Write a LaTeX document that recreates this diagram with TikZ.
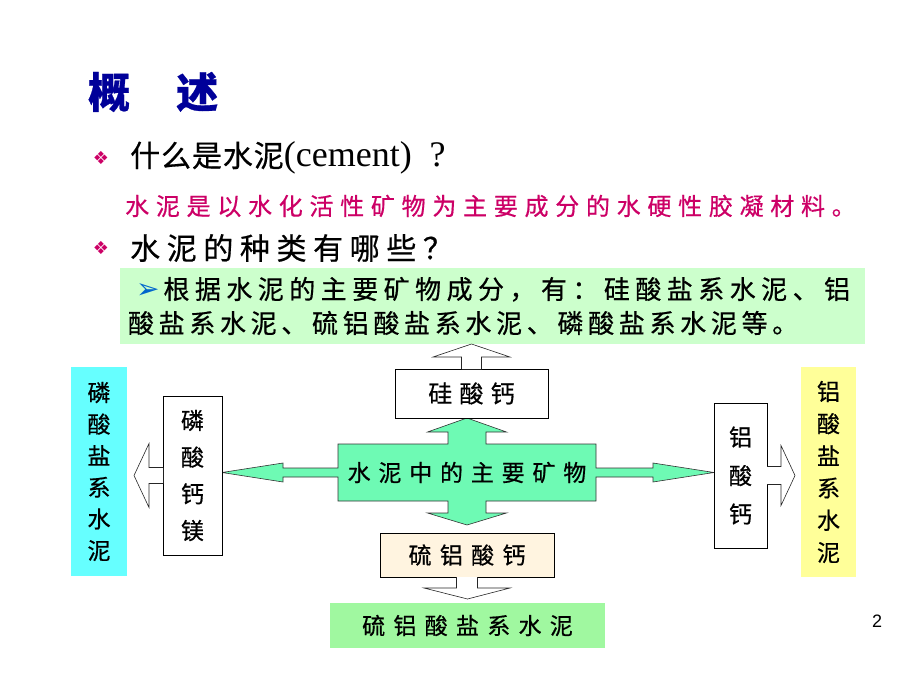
\documentclass[tikz,border=0pt]{standalone}
\usepackage{fontspec}
\usepackage{xcolor}
\setmainfont{Liberation Serif}
\newfontfamily\cjk{Noto Sans CJK SC}[FakeBold=0.6]
\newfontfamily\symfont{DejaVu Sans}
\newfontfamily\numfont{Liberation Sans}
\usetikzlibrary{positioning,calc,backgrounds}

\definecolor{titleblue}{RGB}{0,0,153}
\definecolor{rosered}{RGB}{204,0,102}
\definecolor{palegreen}{RGB}{204,255,204}
\definecolor{mint}{RGB}{110,250,180}
\definecolor{aqua}{RGB}{102,255,255}
\definecolor{lemon}{RGB}{255,255,153}
\definecolor{wheat}{RGB}{255,244,224}
\definecolor{leafgreen}{RGB}{160,248,160}
\definecolor{pointer}{RGB}{0,102,204}

\newcommand{\cjkfont}[3]{\cjk\addfontfeatures{LetterSpace=#3}\fontsize{#1}{#2}\selectfont}

\tikzset{
  box/.style={draw=black, line width=0.6pt, fill=white, inner sep=0pt, outer sep=0pt},
  pane/.style={inner sep=0pt, outer sep=0pt},
  hollow/.style={draw=black!85, line width=0.6pt, fill=white},
  mintshape/.style={draw=black!80, line width=0.6pt, fill=mint},
  bullet/.style={text=rosered, font=\symfont\fontsize{18}{18}\selectfont, inner sep=0pt},
  line/.style={anchor=west, inner sep=0pt}
}

\begin{document}
\begin{tikzpicture}[x=1pt, y=-1pt]
    \useasboundingbox (0,0) rectangle (920,690);

    \node[line, text=titleblue, font=\cjk\bfseries\fontsize{42}{42}\selectfont] (title) at (88,92) {概\hspace{46pt}述};
    \node[bullet] (dot1) at (101,158) {❖};
    \node[line] (ask1) at (130,158) {{\cjkfont{30}{30}{3}什么是水泥}{\fontsize{36}{36}\selectfont(cement)\hspace{18pt}?}};
    \node[line, text=rosered, font=\cjkfont{24}{24}{28}] (define) at (125,206) {水泥是以水化活性矿物为主要成分的水硬性胶凝材料。};
    \node[bullet] (dot2) at (101,248) {❖};
    \node[line, font=\cjkfont{30}{30}{22}] (ask2) at (130,248) {水泥的种类有哪些？};

    \node[pane, fill=palegreen, minimum width=745pt, minimum height=76pt, text width=729pt, inner xsep=8pt, align=left, font=\cjkfont{26}{34}{18}] (types) at (492.5,306) {\hspace*{8pt}{\symfont\color{pointer}\fontsize{28}{28}\selectfont ➢}\hspace{4pt}{\addfontfeatures{LetterSpace=21}根据水泥的主要矿物成分，有：硅酸盐系水泥、铝}\\酸盐系水泥、硫铝酸盐系水泥、磷酸盐系水泥等。};

    \node[box, minimum width=153pt, minimum height=49pt, font=\cjkfont{24}{24}{30}] (silicate) at (471.5,393.5) {硅酸钙};
    \node[pane, minimum width=258pt, minimum height=57pt, font=\cjkfont{23}{23}{34}] (core) at (467,472.5) {水泥中的主要矿物};
    \node[box, fill=wheat, minimum width=174pt, minimum height=44pt, font=\cjkfont{23}{23}{36}] (sulfo) at (467,555) {硫铝酸钙};
    \node[pane, fill=leafgreen, minimum width=275pt, minimum height=45pt, font=\cjkfont{23}{23}{36}] (sulfocement) at (467.5,625.5) {硫铝酸盐系水泥};

    \node[box, minimum width=59pt, minimum height=159pt, align=center, font=\cjkfont{23}{36.7}{0}] (phosphate) at (192.5,475.5) {磷\\酸\\钙\\镁};
    \node[pane, fill=aqua, minimum width=56pt, minimum height=209pt, align=center, font=\cjkfont{23}{31.6}{0}] (phoscement) at (99,471.5) {磷\\酸\\盐\\系\\水\\泥};
    \node[box, minimum width=53pt, minimum height=145pt, align=center, font=\cjkfont{23}{38.5}{0}] (aluminate) at (740.5,475.5) {铝\\酸\\钙};
    \node[pane, fill=lemon, minimum width=55pt, minimum height=210pt, align=center, font=\cjkfont{23}{32.2}{0}] (alucement) at (828.5,472) {铝\\酸\\盐\\系\\水\\泥};

    \node[font=\numfont\fontsize{18}{18}\selectfont] (page) at (877,621) {2};

    \begin{pgfonlayer}{background}
    \draw[mintshape] (core.north west) -- ($(core.north)+(-19,0)$) -- ($(core.north |- silicate.south)+(-19,14)$) -- ++(-20.5,0)
      -- (core.north |- silicate.south) -- ($(core.north |- silicate.south)+(39.5,14)$) -- ++(-20.5,0) -- ($(core.north)+(19,0)$)
      -- (core.north east) -- ($(core.east)+(0,-4.5)$) -- ($(aluminate.west |- core.east)+(-61,-4.5)$) -- ++(0,-5)
      -- (aluminate.west |- core.east) -- ($(aluminate.west |- core.east)+(-61,9.5)$) -- ++(0,-5) -- ($(core.east)+(0,4.5)$)
      -- (core.south east) -- ($(core.south)+(19,0)$) -- ++(0,12) -- ++(20.5,0)
      -- ($(core.south |- sulfo.north)+(0,-8)$) -- ($(core.south)+(-39.5,12)$) -- ++(20.5,0) -- ($(core.south)+(-19,0)$)
      -- (core.south west) -- ($(core.west)+(0,4.5)$) -- ($(phosphate.east |- core.west)+(61,4.5)$) -- ++(0,5)
      -- (phosphate.east |- core.west) -- ($(phosphate.east |- core.west)+(61,-9.5)$) -- ++(0,5) -- ($(core.west)+(0,-4.5)$) -- cycle;
    \end{pgfonlayer}

    \draw[hollow] ($(silicate.north)+(-10,0)$) -- ++(0,-12) -- ++(-28.5,0) -- (silicate.north |- types.south) -- ($(silicate.north)+(38.5,-12)$) -- ++(-28.5,0) -- ($(silicate.north)+(10,0)$);
    \draw[hollow] ($(phosphate.west)+(0,-8)$) -- ++(-14,0) -- ++(0,-24) -- ($(phoscement.east |- phosphate.west)+(7,0)$) -- ($(phosphate.west)+(-14,32)$) -- ++(0,-24) -- ($(phosphate.west)+(0,8)$);
    \draw[hollow] ($(aluminate.east)+(0,-9)$) -- ++(14,0) -- ++(0,-21) -- ($(alucement.west |- aluminate.east)+(-6,0)$) -- ($(aluminate.east)+(14,30)$) -- ++(0,-21) -- ($(aluminate.east)+(0,9)$);
    \draw[hollow] ($(sulfo.south)+(-10.5,0)$) -- ++(0,11) -- ++(-32.5,0) -- ($(sulfocement.north)+(0,-4)$) -- ($(sulfo.south)+(43,11)$) -- ++(-32.5,0) -- ($(sulfo.south)+(10.5,0)$);
\end{tikzpicture}
\end{document}
